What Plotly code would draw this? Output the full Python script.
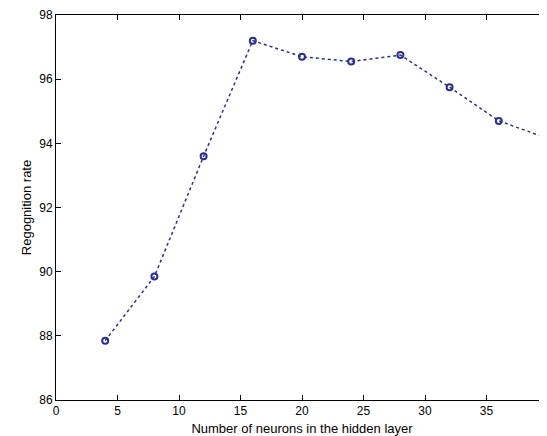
import plotly.graph_objects as go

neurons = [4, 8, 12, 16, 20, 24, 28, 32, 36, 40]
rate = [87.85, 89.85, 93.6, 97.2, 96.7, 96.55, 96.75, 95.75, 94.7, 94.15]

fig = go.Figure(go.Scatter(
    x=neurons, y=rate, mode="lines+markers",
    line=dict(color="#2b2f8f", width=1.5, dash="dot"),
    marker=dict(symbol="circle-open", size=6, color="#2b2f8f", line=dict(width=2)),
    showlegend=False, cliponaxis=False))

ax = dict(showline=True, mirror="ticks", linecolor="black", linewidth=1,
          ticks="inside", ticklen=5, tickcolor="black", showgrid=False, zeroline=False,
          tickfont=dict(size=12, color="black"), automargin=False)
fig.update_xaxes(range=[0, 40], dtick=5, title=dict(text="Number of neurons in the hidden layer",
                 font=dict(size=13, color="black"), standoff=6), **ax)
fig.update_yaxes(range=[86, 98], dtick=2, title=dict(text="Regognition rate",
                 font=dict(size=13, color="black"), standoff=4), **ax)
fig.update_layout(width=547, height=436, margin=dict(l=48, r=7, t=7, b=44),
                  plot_bgcolor="white", paper_bgcolor="white",
                  font=dict(family="Liberation Sans, Arial, sans-serif"))
fig.write_html("out.html")
